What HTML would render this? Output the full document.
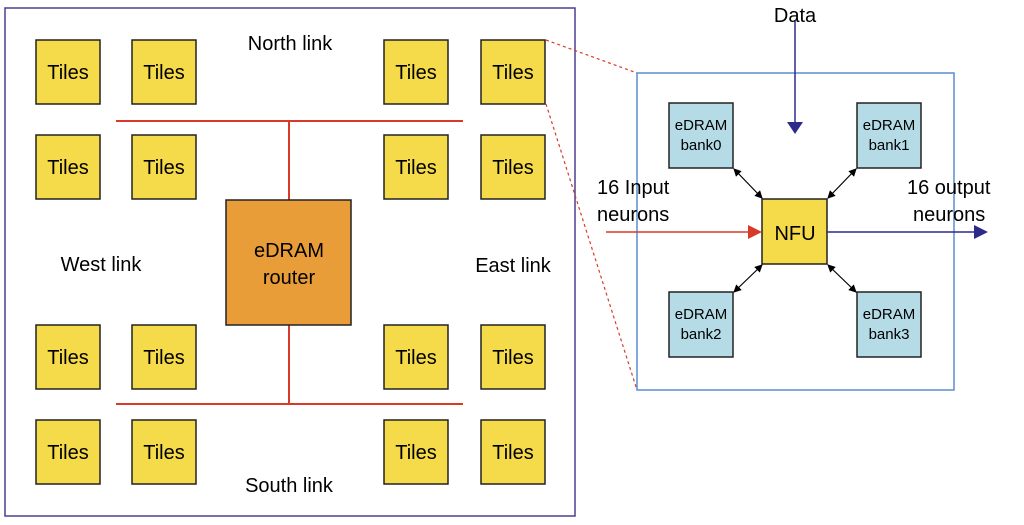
<!DOCTYPE html>
<html><head><style>body{margin:0;background:#fff}svg{display:block}text{font-family:"Liberation Sans",sans-serif}</style></head><body>
<svg width="1024" height="525" viewBox="0 0 1024 525" xmlns="http://www.w3.org/2000/svg">
<defs>
<marker id="ab" markerWidth="8" markerHeight="8" refX="7" refY="4" orient="auto" markerUnits="userSpaceOnUse"><path d="M0,0 L8,4 L0,8Z" fill="#000"/></marker>
<marker id="as" markerWidth="8" markerHeight="8" refX="1" refY="4" orient="auto" markerUnits="userSpaceOnUse"><path d="M8,0 L0,4 L8,8Z" fill="#000"/></marker>
</defs>
<rect x="5" y="8" width="570" height="508" fill="none" stroke="#4b3f8f" stroke-width="1.5"/>
<g stroke="#d83a2a" stroke-width="2" fill="none">
<line x1="116" y1="121" x2="463" y2="121"/><line x1="289" y1="121" x2="289" y2="200"/>
<line x1="289" y1="325" x2="289" y2="404"/><line x1="116" y1="404" x2="463" y2="404"/>
</g>
<g fill="#f5da4a" stroke="#222" stroke-width="1.5">
<rect x="36" y="40" width="64" height="64"/><rect x="132" y="40" width="64" height="64"/><rect x="384" y="40" width="64" height="64"/><rect x="481" y="40" width="64" height="64"/>
<rect x="36" y="135" width="64" height="64"/><rect x="132" y="135" width="64" height="64"/><rect x="384" y="135" width="64" height="64"/><rect x="481" y="135" width="64" height="64"/>
<rect x="36" y="325" width="64" height="64"/><rect x="132" y="325" width="64" height="64"/><rect x="384" y="325" width="64" height="64"/><rect x="481" y="325" width="64" height="64"/>
<rect x="36" y="420" width="64" height="64"/><rect x="132" y="420" width="64" height="64"/><rect x="384" y="420" width="64" height="64"/><rect x="481" y="420" width="64" height="64"/>
</g>
<g font-size="20" text-anchor="middle" fill="#000">
<text x="68" y="79">Tiles</text><text x="164" y="79">Tiles</text><text x="416" y="79">Tiles</text><text x="513" y="79">Tiles</text>
<text x="68" y="174">Tiles</text><text x="164" y="174">Tiles</text><text x="416" y="174">Tiles</text><text x="513" y="174">Tiles</text>
<text x="68" y="364">Tiles</text><text x="164" y="364">Tiles</text><text x="416" y="364">Tiles</text><text x="513" y="364">Tiles</text>
<text x="68" y="459">Tiles</text><text x="164" y="459">Tiles</text><text x="416" y="459">Tiles</text><text x="513" y="459">Tiles</text>
<text x="290" y="50">North link</text><text x="289" y="492">South link</text>
<text x="101" y="271">West link</text><text x="513" y="272">East link</text>
</g>
<rect x="226" y="200" width="125" height="125" fill="#e89d38" stroke="#222" stroke-width="1.5"/>
<text x="289" y="257" font-size="20" text-anchor="middle">eDRAM</text>
<text x="289" y="284" font-size="20" text-anchor="middle">router</text>
<g stroke="#d83a2a" stroke-width="1.2" stroke-dasharray="3,3"><line x1="546" y1="40" x2="637" y2="73"/><line x1="546" y1="104" x2="637" y2="390"/></g>
<rect x="637" y="73" width="317" height="317" fill="none" stroke="#5b8ed0" stroke-width="1.5"/>
<g fill="#b5dce6" stroke="#222" stroke-width="1.5">
<rect x="669" y="103" width="64" height="65"/><rect x="857" y="103" width="64" height="65"/>
<rect x="669" y="292" width="64" height="65"/><rect x="857" y="292" width="64" height="65"/>
</g>
<g font-size="15" text-anchor="middle">
<text x="701" y="130">eDRAM</text><text x="701" y="150">bank0</text>
<text x="889" y="130">eDRAM</text><text x="889" y="150">bank1</text>
<text x="701" y="319">eDRAM</text><text x="701" y="339">bank2</text>
<text x="889" y="319">eDRAM</text><text x="889" y="339">bank3</text>
</g>
<rect x="762" y="199" width="65" height="65" fill="#f5da4a" stroke="#222" stroke-width="1.5"/>
<text x="795" y="240" font-size="20" text-anchor="middle">NFU</text>
<g stroke="#000" stroke-width="1.2" marker-start="url(#as)" marker-end="url(#ab)">
<line x1="734" y1="169" x2="762" y2="198"/><line x1="856" y1="169" x2="828" y2="198"/>
<line x1="734" y1="292" x2="762" y2="265"/><line x1="856" y1="292" x2="828" y2="265"/>
</g>
<line x1="795" y1="20" x2="795" y2="122" stroke="#2e2a8a" stroke-width="1.5"/>
<path d="M787,122 L803,122 L795,134Z" fill="#2e2a8a"/>
<text x="795" y="22" font-size="20" text-anchor="middle">Data</text>
<line x1="606" y1="232" x2="750" y2="232" stroke="#d83a2a" stroke-width="1.5"/>
<path d="M748,225 L762,232 L748,239Z" fill="#d83a2a"/>
<line x1="827" y1="232" x2="976" y2="232" stroke="#2e2a8a" stroke-width="1.5"/>
<path d="M974,225 L988,232 L974,239Z" fill="#2e2a8a"/>
<text x="597" y="194" font-size="20">16 Input</text><text x="597" y="221" font-size="20">neurons</text>
<text x="907" y="194" font-size="20">16 output</text><text x="913" y="221" font-size="20">neurons</text>
</svg>
</body></html>
